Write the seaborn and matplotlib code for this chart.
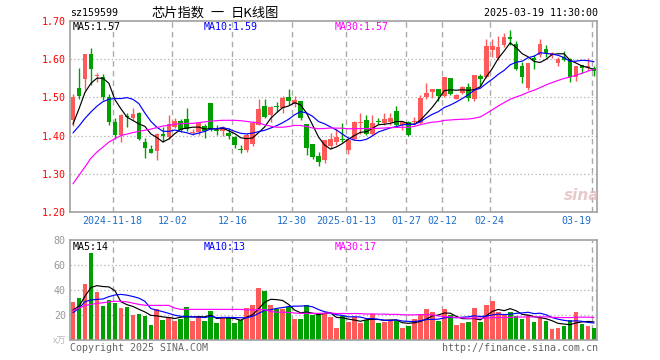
import numpy as np
import pandas as pd
import matplotlib
matplotlib.use("Agg")
import matplotlib.pyplot as plt
import matplotlib.transforms as mtransforms
import seaborn as sns

# ---------------- data ----------------
open_ = [1.440, 1.525, 1.548, 1.614, 1.555, 1.554, 1.502, 1.436, 1.401, 1.452,
         1.446, 1.459, 1.383, 1.364, 1.359, 1.405, 1.396, 1.423, 1.438, 1.443,
         1.408, 1.410, 1.425, 1.485, 1.414, 1.412, 1.408, 1.397, 1.365, 1.361,
         1.379, 1.429, 1.478, 1.455, 1.476, 1.471, 1.502, 1.483, 1.490, 1.430,
         1.377, 1.346, 1.335, 1.373, 1.383, 1.391, 1.361, 1.390, 1.432, 1.442,
         1.404, 1.437, 1.434, 1.436, 1.464, 1.427, 1.436, 1.436, 1.432, 1.502,
         1.515, 1.522, 1.504, 1.552, 1.497, 1.512, 1.527, 1.497, 1.557, 1.553,
         1.625, 1.604, 1.638, 1.658, 1.639, 1.581, 1.524, 1.604, 1.610, 1.627,
         1.610, 1.589, 1.607, 1.600, 1.554, 1.585, 1.578, 1.576]
high = [1.510, 1.578, 1.614, 1.630, 1.563, 1.561, 1.510, 1.445, 1.456, 1.458,
        1.471, 1.462, 1.394, 1.375, 1.406, 1.423, 1.454, 1.446, 1.443, 1.471,
        1.416, 1.436, 1.430, 1.486, 1.428, 1.424, 1.421, 1.398, 1.376, 1.407,
        1.439, 1.496, 1.496, 1.477, 1.489, 1.504, 1.522, 1.504, 1.491, 1.430,
        1.377, 1.357, 1.389, 1.408, 1.417, 1.433, 1.394, 1.439, 1.458, 1.455,
        1.455, 1.445, 1.458, 1.458, 1.477, 1.438, 1.438, 1.449, 1.506, 1.537,
        1.523, 1.523, 1.553, 1.552, 1.509, 1.530, 1.539, 1.559, 1.561, 1.654,
        1.654, 1.661, 1.668, 1.677, 1.648, 1.592, 1.591, 1.610, 1.654, 1.638,
        1.618, 1.607, 1.622, 1.603, 1.581, 1.585, 1.603, 1.583]
low = [1.425, 1.497, 1.519, 1.532, 1.540, 1.493, 1.427, 1.392, 1.383, 1.423,
       1.440, 1.388, 1.342, 1.354, 1.335, 1.383, 1.392, 1.420, 1.410, 1.411,
       1.402, 1.401, 1.395, 1.411, 1.401, 1.400, 1.392, 1.368, 1.354, 1.357,
       1.372, 1.427, 1.445, 1.436, 1.461, 1.458, 1.480, 1.475, 1.440, 1.348,
       1.339, 1.320, 1.329, 1.366, 1.375, 1.383, 1.351, 1.388, 1.405, 1.401,
       1.401, 1.430, 1.427, 1.427, 1.423, 1.414, 1.398, 1.427, 1.430, 1.495,
       1.499, 1.490, 1.502, 1.506, 1.496, 1.508, 1.490, 1.490, 1.531, 1.550,
       1.607, 1.598, 1.633, 1.638, 1.572, 1.539, 1.519, 1.574, 1.605, 1.605,
       1.604, 1.581, 1.596, 1.541, 1.543, 1.563, 1.572, 1.556]
close = [1.502, 1.504, 1.614, 1.574, 1.558, 1.502, 1.436, 1.401, 1.454, 1.450,
         1.457, 1.392, 1.368, 1.355, 1.404, 1.398, 1.430, 1.438, 1.414, 1.418,
         1.410, 1.432, 1.412, 1.417, 1.413, 1.422, 1.399, 1.375, 1.363, 1.401,
         1.432, 1.469, 1.448, 1.475, 1.475, 1.499, 1.490, 1.492, 1.446, 1.368,
         1.344, 1.331, 1.389, 1.392, 1.396, 1.389, 1.388, 1.436, 1.434, 1.404,
         1.433, 1.435, 1.443, 1.445, 1.427, 1.436, 1.401, 1.438, 1.499, 1.511,
         1.522, 1.504, 1.553, 1.509, 1.506, 1.527, 1.499, 1.559, 1.548, 1.635,
         1.635, 1.632, 1.658, 1.654, 1.574, 1.554, 1.591, 1.598, 1.640, 1.616,
         1.616, 1.601, 1.598, 1.554, 1.581, 1.576, 1.583, 1.570]
volume = [30.7, 33.6, 44.8, 69.9, 38.4, 27.2, 32.0, 29.9, 25.6, 26.7,
          20.0, 20.8, 19.2, 12.0, 24.5, 16.0, 18.1, 15.5, 16.8, 26.4,
          15.2, 19.2, 15.2, 23.2, 13.3, 17.9, 18.1, 13.6, 16.0, 25.6,
          28.0, 41.9, 39.2, 28.0, 24.5, 24.5, 26.1, 16.8, 16.8, 27.7,
          20.0, 20.0, 21.9, 18.7, 9.6, 18.9, 14.4, 18.1, 13.9, 15.7,
          20.5, 13.9, 14.7, 15.5, 15.5, 9.6, 11.5, 16.8, 20.8, 24.8,
          22.4, 15.2, 24.8, 20.0, 12.0, 13.6, 14.7, 25.6, 14.7, 28.0,
          31.2, 22.7, 20.8, 22.7, 19.5, 16.8, 20.0, 14.4, 18.4, 15.5,
          8.8, 9.6, 11.5, 16.0, 22.4, 12.8, 11.5, 9.6]

price_ma5_head = [1.430, 1.470, 1.513, 1.537]
price_ma10_head = [1.407, 1.425, 1.445, 1.462, 1.477, 1.489, 1.495, 1.497, 1.497]
price_ma30_head = [1.274, 1.296, 1.318, 1.341, 1.357, 1.370, 1.383, 1.392, 1.400, 1.404,
                   1.408, 1.411, 1.414, 1.417, 1.421, 1.425, 1.427, 1.430, 1.431, 1.432,
                   1.432, 1.434, 1.436, 1.438, 1.439, 1.440, 1.440, 1.440, 1.439]
vol_ma5_head = [24.0, 27.0, 35.0, 42.0]
vol_ma10_head = [21.9, 25.3, 30.7, 32.0, 32.5, 32.8, 34.7, 36.0, 36.5]
vol_ma30_head = [23.5, 25.5, 27.5, 28.5, 29.3, 29.8, 30.5, 31.0, 31.0, 30.5,
                 29.5, 28.5, 27.8, 27.7, 27.7, 27.7, 27.7, 25.5, 24.5, 24.5,
                 24.5, 24.5, 24.5, 24.5, 24.5, 24.5, 24.5, 24.5, 24.5]

date_ticks = [7, 17, 27, 37, 46, 56, 62, 70, 87]
date_labels = ["2024-11-18", "12-02", "12-16", "12-30", "2025-01-13",
               "01-27", "02-12", "02-24", "03-19"]
price_ticks = [1.20, 1.30, 1.40, 1.50, 1.60, 1.70]
vol_ticks = [20, 40, 60, 80]

title_code = "sz159599"
title_parts = ["芯片指数", "一", "日K线图"]
title_time = "2025-03-19 11:30:00"
price_ma_labels = ["MA5:1.57", "MA10:1.59", "MA30:1.57"]
vol_ma_labels = ["MA5:14", "MA10:13", "MA30:17"]

# ---------------- style ----------------
sns.set_style("white")
plt.rcParams["font.family"] = ["DejaVu Sans Mono", "Noto Sans CJK SC"]
MONO = "DejaVu Sans Mono"
CJK = ["Noto Sans CJK SC", "DejaVu Sans"]
RED = "#ff5a5a"
GREEN = "#00a000"
GRAY = "#a0a0a0"
FS = 7.2
LW = 0.85

W, H = 660, 360
fig = plt.figure(figsize=(W / 100, H / 100), dpi=100)
fig.patch.set_facecolor("white")


def rect(x0, y0, x1, y1):
    return [x0 / W, 1 - y1 / H, (x1 - x0) / W, (y1 - y0) / H]


def ftext(x, y, s, **kw):
    fig.text(x / W, 1 - y / H, s, **kw)


ax = fig.add_axes(rect(70, 21, 597, 212))
axv = fig.add_axes(rect(70, 240, 597, 340))

n = len(close)
idx = np.arange(n)
df = pd.DataFrame({"i": idx, "open": open_, "high": high, "low": low,
                   "close": close, "volume": volume})
df["up"] = df["close"] >= df["open"]
df["color"] = np.where(df["up"], RED, GREEN)


def moving(series, w, head):
    m = series.rolling(w).mean().to_numpy()
    m[:len(head)] = head
    return m


df["ma5"] = moving(df["close"], 5, price_ma5_head)
df["ma10"] = moving(df["close"], 10, price_ma10_head)
df["ma30"] = moving(df["close"], 30, price_ma30_head)
df["vma5"] = moving(df["volume"], 5, vol_ma5_head)
df["vma10"] = moving(df["volume"], 10, vol_ma10_head)
df["vma30"] = moving(df["volume"], 30, vol_ma30_head)

for a in (ax, axv):
    a.set_facecolor("white")
    a.set_xlim(-0.5, n - 0.5)
    for sp in a.spines.values():
        sp.set_visible(True)
        sp.set_color(GRAY)
        sp.set_linewidth(1.2)
    for t in date_ticks:
        a.axvline(t - 0.4, color="#aaaaaa", lw=1.0, dashes=(4, 3), zorder=0)

# gridlines
for p in price_ticks[1:-1]:
    ax.axhline(p, color="#b0b0b0", lw=0.9, dashes=(1, 2), zorder=0)
for v in [20, 40, 60]:
    axv.axhline(v, color="#b0b0b0", lw=0.9, dashes=(1, 2), zorder=0)

# candles
ax.vlines(df["i"], df["low"], df["high"], colors=df["color"], lw=1.0, zorder=2)
body_bottom = np.minimum(df["open"], df["close"])
body_h = np.maximum(np.abs(df["close"] - df["open"]), 0.0025)
ax.bar(df["i"], body_h, bottom=body_bottom, width=0.77, color=df["color"],
       linewidth=0, zorder=3)

# price MAs
sns.lineplot(data=df, x="i", y="ma5", ax=ax, color="black", lw=LW, zorder=4)
sns.lineplot(data=df, x="i", y="ma10", ax=ax, color="#0000ff", lw=LW, zorder=4)
sns.lineplot(data=df, x="i", y="ma30", ax=ax, color="#ff00ff", lw=LW, zorder=4)

# volume bars + MAs
axv.bar(df["i"], df["volume"], width=0.78, color=df["color"], linewidth=0, zorder=2)
sns.lineplot(data=df, x="i", y="vma5", ax=axv, color="black", lw=LW, zorder=4)
sns.lineplot(data=df, x="i", y="vma10", ax=axv, color="#0000ff", lw=LW, zorder=4)
sns.lineplot(data=df, x="i", y="vma30", ax=axv, color="#ff00ff", lw=LW, zorder=4)

# axes ranges and ticks
ax.set_ylim(1.20, 1.70)
ax.set_yticks(price_ticks)
ax.set_yticklabels([f"{p:.2f}" for p in price_ticks], color="#ff0000",
                   fontsize=FS, family=MONO)
axv.set_ylim(0, 80)
axv.set_yticks(vol_ticks)
axv.set_yticklabels([str(v) for v in vol_ticks], color="#999999",
                    fontsize=FS, family=MONO)
for a in (ax, axv):
    a.set_xticks([])
    a.set_xlabel("")
    a.set_ylabel("")
    a.tick_params(axis="y", length=0, pad=3)
    a.grid(False)

# date labels under the price chart
trans = mtransforms.blended_transform_factory(ax.transData, ax.transAxes)
for t, lab in zip(date_ticks, date_labels):
    ha = "right" if t == date_ticks[-1] else "center"
    ax.text(t - 0.4, -0.045, lab, transform=trans, ha=ha, va="center",
            color="#1f6fc8", fontsize=FS, family=MONO)

# MA legends
ma_colors = ["black", "#0000ff", "#ff00ff"]
for lab, x, c in zip(price_ma_labels, [73, 204, 335], ma_colors):
    ftext(x, 27, lab, ha="left", va="center", color=c, fontsize=FS, family=MONO)
for lab, x, c in zip(vol_ma_labels, [73, 204, 335], ma_colors):
    ftext(x, 246.5, lab, ha="left", va="center", color=c, fontsize=FS, family=MONO)

# header
ftext(70, 13, title_code, ha="left", va="center", color="black", fontsize=FS, family=MONO)
for part, x in zip(title_parts, [151, 210, 231]):
    ftext(x, 13, part, ha="left", va="center", color="black", fontsize=9.5, family=CJK)
ftext(598, 13, title_time, ha="right", va="center", color="black", fontsize=FS, family=MONO)

# footer
ftext(66, 341, "x万", ha="right", va="center", color="#b8b8b8", fontsize=6.5, family=CJK)
ftext(70, 348, "Copyright 2025 SINA.COM", ha="left", va="center", color="#666666",
      fontsize=FS, family=MONO)
ftext(598, 348, "http://finance.sina.com.cn", ha="right", va="center", color="#666666",
      fontsize=FS, family=MONO)

# watermark
ftext(582, 195, "sina", ha="center", va="center", color="#e0b8b8", fontsize=11,
      style="italic", weight="bold", family="DejaVu Sans", alpha=0.75)

fig.savefig("out.png", dpi=100, facecolor="white")
